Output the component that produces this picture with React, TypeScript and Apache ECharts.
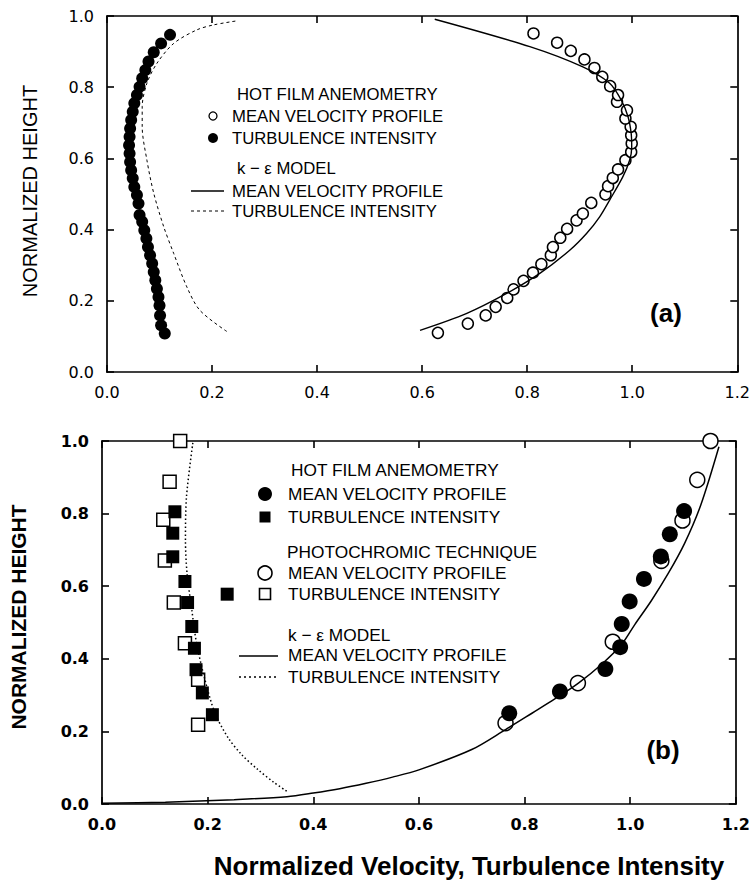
import React, { useEffect, useRef } from "react";
import * as echarts from "echarts";

// ---------- Panel (a) data: [velocity or turbulence intensity, normalized height] ----------
const aHotFilmMeanVelocity: number[][] = [
  [0.630, 0.110], [0.687, 0.136], [0.721, 0.159], [0.740, 0.183], [0.762, 0.208],
  [0.774, 0.232], [0.793, 0.256], [0.811, 0.279], [0.827, 0.303], [0.845, 0.328],
  [0.849, 0.351], [0.863, 0.377], [0.876, 0.402], [0.894, 0.426], [0.906, 0.445],
  [0.922, 0.475], [0.949, 0.499], [0.954, 0.522], [0.963, 0.545], [0.973, 0.569],
  [0.987, 0.595], [0.998, 0.618], [0.999, 0.642], [0.998, 0.665], [0.997, 0.689],
  [0.987, 0.712], [0.990, 0.735], [0.971, 0.759], [0.973, 0.778], [0.958, 0.803],
  [0.943, 0.829], [0.928, 0.854], [0.909, 0.878], [0.883, 0.902], [0.857, 0.925],
  [0.812, 0.951],
];
const aHotFilmTurbulence: number[][] = [
  [0.110, 0.108], [0.103, 0.131], [0.101, 0.159], [0.100, 0.187], [0.098, 0.211],
  [0.095, 0.234], [0.092, 0.258], [0.089, 0.281], [0.086, 0.305], [0.082, 0.328],
  [0.078, 0.351], [0.075, 0.375], [0.071, 0.398], [0.067, 0.422], [0.062, 0.441],
  [0.060, 0.473], [0.057, 0.497], [0.052, 0.520], [0.049, 0.544], [0.046, 0.567],
  [0.044, 0.590], [0.043, 0.614], [0.042, 0.637], [0.043, 0.661], [0.044, 0.684],
  [0.046, 0.708], [0.049, 0.731], [0.052, 0.755], [0.057, 0.778], [0.062, 0.801],
  [0.067, 0.825], [0.073, 0.848], [0.079, 0.872], [0.089, 0.898], [0.103, 0.923],
  [0.120, 0.947],
];
const aModelMeanVelocity: number[][] = [
  [0.596, 0.117], [0.684, 0.164], [0.760, 0.220], [0.824, 0.277], [0.881, 0.342],
  [0.913, 0.389], [0.938, 0.436], [0.957, 0.483], [0.982, 0.548], [0.995, 0.595],
  [0.999, 0.630], [0.998, 0.670], [0.992, 0.717], [0.979, 0.764], [0.957, 0.811],
  [0.906, 0.857], [0.805, 0.914], [0.624, 0.991],
];
const aModelTurbulence: number[][] = [
  [0.228, 0.114], [0.177, 0.173], [0.152, 0.239], [0.127, 0.333], [0.108, 0.408],
  [0.089, 0.502], [0.076, 0.595], [0.067, 0.689], [0.067, 0.745], [0.076, 0.811],
  [0.095, 0.867], [0.127, 0.923], [0.171, 0.961], [0.203, 0.975], [0.250, 0.987],
];

// ---------- Panel (b) data ----------
const bHotFilmMeanVelocity: number[][] = [
  [0.771, 0.250], [0.867, 0.310], [0.953, 0.372], [0.981, 0.432], [0.984, 0.496],
  [0.999, 0.558], [1.026, 0.620], [1.058, 0.682], [1.075, 0.743], [1.102, 0.807],
];
const bHotFilmTurbulence: number[][] = [
  [0.209, 0.246], [0.190, 0.306], [0.178, 0.370], [0.175, 0.429], [0.170, 0.489],
  [0.162, 0.555], [0.157, 0.613], [0.134, 0.681], [0.134, 0.746], [0.138, 0.805],
  [0.237, 0.578],
];
const bPhotochromicMeanVelocity: number[][] = [
  [0.764, 0.223], [0.901, 0.333], [0.967, 0.447], [1.059, 0.670], [1.099, 0.781],
  [1.127, 0.893], [1.152, 1.0],
];
const bPhotochromicTurbulence: number[][] = [
  [0.182, 0.218], [0.182, 0.342], [0.157, 0.443], [0.136, 0.555], [0.119, 0.671],
  [0.116, 0.783], [0.128, 0.888], [0.148, 1.0],
];
const bModelMeanVelocity: number[][] = [
  [0.0, 0.002], [0.12, 0.005], [0.25, 0.012], [0.35, 0.02], [0.40, 0.03],
  [0.45, 0.042], [0.50, 0.057], [0.55, 0.074], [0.60, 0.094], [0.70, 0.150],
  [0.764, 0.205], [0.814, 0.250], [0.858, 0.290], [0.902, 0.333], [0.946, 0.385],
  [0.984, 0.440], [1.009, 0.495], [1.040, 0.560], [1.072, 0.635], [1.103, 0.718],
  [1.134, 0.825], [1.168, 0.984],
];
const bModelTurbulence: number[][] = [
  [0.172, 0.995], [0.160, 0.847], [0.158, 0.727], [0.161, 0.636], [0.170, 0.535],
  [0.179, 0.443], [0.195, 0.342], [0.214, 0.250], [0.239, 0.182], [0.265, 0.135],
  [0.295, 0.095], [0.325, 0.060], [0.350, 0.035],
];

// ---------- Axes ----------
const X_MIN = 0, X_MAX = 1.2, X_STEP = 0.2;
const Y_MIN = 0, Y_MAX = 1.0, Y_STEP = 0.2;

const LEGEND_A_HEAD1 = "HOT FILM ANEMOMETRY";
const LEGEND_A_HEAD2 = "k \u2212 \u03b5 MODEL";
const LEGEND_B_HEAD2 = "PHOTOCHROMIC TECHNIQUE";
const MEAN_LABEL = "MEAN VELOCITY PROFILE";
const TURB_LABEL = "TURBULENCE INTENSITY";
const X_TITLE = "Normalized Velocity, Turbulence Intensity";
const Y_TITLE = "NORMALIZED HEIGHT";

const FONT = "'Liberation Sans', Arial, sans-serif";
const NUM_FONT = "'DejaVu Sans', sans-serif";
const INK = "#000";
const TICK_LEN = 7;

export default function App() {
  const ref = useRef<HTMLDivElement>(null);
  useEffect(() => {
    if (!ref.current) return;
    const chart = echarts.init(ref.current, undefined, { renderer: "svg" });

    const fmt = (v: number) => v.toFixed(1);
    const tickStyle = () => ({ show: true, inside: true, length: TICK_LEN, lineStyle: { color: INK, width: 1.6 } });
    const mkX = (grid: number, pos: "top" | "bottom", bold: boolean) => ({
      type: "value", gridIndex: grid, position: pos, min: X_MIN, max: X_MAX, interval: X_STEP,
      axisLine: { show: true, onZero: false, lineStyle: { color: INK, width: 1.7 } },
      axisTick: tickStyle(),
      splitLine: { show: false },
      axisLabel: {
        show: pos === "bottom", formatter: fmt, margin: 12, color: INK,
        fontFamily: NUM_FONT, fontSize: 16, fontWeight: bold ? "bold" : "normal",
      },
    });
    const mkY = (grid: number, pos: "left" | "right", bold: boolean) => ({
      type: "value", gridIndex: grid, position: pos, min: Y_MIN, max: Y_MAX, interval: Y_STEP,
      axisLine: { show: true, onZero: false, lineStyle: { color: INK, width: 1.7 } },
      axisTick: tickStyle(),
      splitLine: { show: false },
      axisLabel: {
        show: pos === "left", formatter: fmt, margin: 13, color: INK,
        fontFamily: NUM_FONT, fontSize: 16, fontWeight: bold ? "bold" : "normal",
      },
    });

    const hollow = { color: "#fff", borderColor: INK, borderWidth: 1.5, opacity: 1 };
    const filled = { color: INK, borderColor: INK, borderWidth: 0, opacity: 1 };

    const legendText = (x: number, y: number, text: string, size: number, weight: string) => ({
      type: "text", x, y, silent: true,
      style: { text, fill: INK, font: `${weight} ${size}px ${FONT}`, verticalAlign: "middle", align: "left" },
    });

    const graphics: any[] = [
      legendText(237, 94, LEGEND_A_HEAD1, 16.7, "normal"),
      { type: "circle", shape: { cx: 213, cy: 116, r: 4 }, style: { fill: "#fff", stroke: INK, lineWidth: 1.3 } },
      legendText(232, 116, MEAN_LABEL, 16.7, "normal"),
      { type: "circle", shape: { cx: 213, cy: 138, r: 5 }, style: { fill: INK } },
      legendText(232, 138, TURB_LABEL, 16.7, "normal"),
      legendText(237, 168, LEGEND_A_HEAD2, 16.7, "normal"),
      { type: "line", shape: { x1: 191, y1: 191, x2: 224, y2: 191 }, style: { stroke: INK, lineWidth: 1.3 } },
      legendText(232, 191, MEAN_LABEL, 16.7, "normal"),
      { type: "line", shape: { x1: 191, y1: 211, x2: 224, y2: 211 }, style: { stroke: INK, lineWidth: 1, lineDash: [3, 3] } },
      legendText(232, 211, TURB_LABEL, 16.7, "normal"),
      { type: "text", x: 666, y: 313, style: { text: "(a)", fill: INK, font: `bold 26px ${FONT}`, align: "center", verticalAlign: "middle" } },

      legendText(291, 470, LEGEND_A_HEAD1, 17.3, "normal"),
      { type: "circle", shape: { cx: 265, cy: 494, r: 7 }, style: { fill: INK } },
      legendText(288, 494, MEAN_LABEL, 17.3, "normal"),
      { type: "rect", shape: { x: 259.5, y: 511.5, width: 11, height: 11 }, style: { fill: INK } },
      legendText(288, 517, TURB_LABEL, 17.3, "normal"),
      legendText(287, 552, LEGEND_B_HEAD2, 17.3, "normal"),
      { type: "circle", shape: { cx: 265, cy: 573, r: 7 }, style: { fill: "#fff", stroke: INK, lineWidth: 1.6 } },
      legendText(288, 573, MEAN_LABEL, 17.3, "normal"),
      { type: "rect", shape: { x: 259.5, y: 588.5, width: 11, height: 11 }, style: { fill: "#fff", stroke: INK, lineWidth: 1.6 } },
      legendText(288, 594, TURB_LABEL, 17.3, "normal"),
      legendText(288, 635, LEGEND_A_HEAD2, 17.3, "normal"),
      { type: "line", shape: { x1: 239, y1: 656, x2: 278, y2: 656 }, style: { stroke: INK, lineWidth: 1.5 } },
      legendText(288, 655, MEAN_LABEL, 17.3, "normal"),
      { type: "line", shape: { x1: 239, y1: 677, x2: 278, y2: 677 }, style: { stroke: INK, lineWidth: 1.5, lineDash: [2, 3] } },
      legendText(288, 677, TURB_LABEL, 17.3, "normal"),
      { type: "text", x: 663, y: 750, style: { text: "(b)", fill: INK, font: `bold 26px ${FONT}`, align: "center", verticalAlign: "middle" } },

      { type: "text", x: 30, y: 191, rotation: Math.PI / 2,
        style: { text: Y_TITLE, fill: INK, font: `normal 20px ${FONT}`, align: "center", verticalAlign: "middle" } },
      { type: "text", x: 18, y: 617, rotation: Math.PI / 2,
        style: { text: Y_TITLE, fill: INK, font: `bold 21px ${FONT}`, align: "center", verticalAlign: "middle" } },
      { type: "text", x: 469, y: 866,
        style: { text: X_TITLE, fill: INK, font: `bold 26px ${FONT}`, align: "center", verticalAlign: "middle" } },
    ];

    chart.setOption({
      animation: false,
      backgroundColor: "#fff",
      grid: [
        { left: 107, top: 16, width: 631, height: 356 },
        { left: 102, top: 441, width: 636, height: 363 },
      ],
      xAxis: [mkX(0, "bottom", false), mkX(0, "top", false), mkX(1, "bottom", true), mkX(1, "top", true)],
      yAxis: [mkY(0, "left", false), mkY(0, "right", false), mkY(1, "left", true), mkY(1, "right", true)],
      series: [
        { name: "a model mean", type: "line", xAxisIndex: 0, yAxisIndex: 0, data: aModelMeanVelocity,
          showSymbol: false, smooth: 0.3, lineStyle: { color: INK, width: 1.4 }, silent: true },
        { name: "a model turb", type: "line", xAxisIndex: 0, yAxisIndex: 0, data: aModelTurbulence,
          showSymbol: false, smooth: 0.3, lineStyle: { color: INK, width: 1, type: [3, 3] }, silent: true },
        { name: "a mean", type: "scatter", xAxisIndex: 0, yAxisIndex: 0, data: aHotFilmMeanVelocity,
          symbol: "circle", symbolSize: 11, itemStyle: hollow },
        { name: "a turb", type: "scatter", xAxisIndex: 0, yAxisIndex: 0, data: aHotFilmTurbulence,
          symbol: "circle", symbolSize: 12, itemStyle: filled },
        { name: "b model mean", type: "line", xAxisIndex: 2, yAxisIndex: 2, data: bModelMeanVelocity,
          showSymbol: false, smooth: 0.3, lineStyle: { color: INK, width: 1.5 }, silent: true },
        { name: "b model turb", type: "line", xAxisIndex: 2, yAxisIndex: 2, data: bModelTurbulence,
          showSymbol: false, smooth: 0.3, lineStyle: { color: INK, width: 1.5, type: [1.5, 2.5] }, silent: true },
        { name: "b photo mean", type: "scatter", xAxisIndex: 2, yAxisIndex: 2, data: bPhotochromicMeanVelocity,
          symbol: "circle", symbolSize: 15, itemStyle: hollow },
        { name: "b photo turb", type: "scatter", xAxisIndex: 2, yAxisIndex: 2, data: bPhotochromicTurbulence,
          symbol: "rect", symbolSize: 13, itemStyle: hollow },
        { name: "b hot mean", type: "scatter", xAxisIndex: 2, yAxisIndex: 2, data: bHotFilmMeanVelocity,
          symbol: "circle", symbolSize: 16, itemStyle: filled },
        { name: "b hot turb", type: "scatter", xAxisIndex: 2, yAxisIndex: 2, data: bHotFilmTurbulence,
          symbol: "rect", symbolSize: 13, itemStyle: filled },
      ],
      graphic: graphics,
    });
    return () => chart.dispose();
  }, []);

  return <div ref={ref} style={{ position: "absolute", left: 0, top: 0, width: 753, height: 883 }} />;
}
